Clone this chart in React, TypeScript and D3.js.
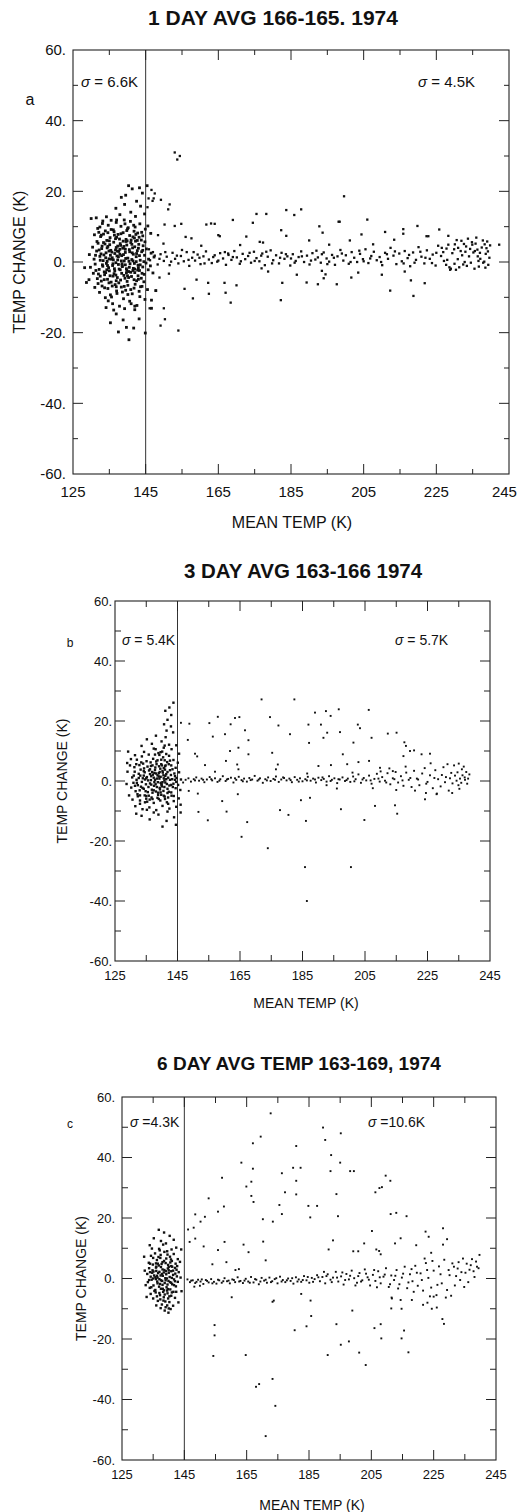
import React from "react";
import * as d3 from "d3";

// ---------- tick values ----------
const xTickValues = [125, 135, 145, 155, 165, 175, 185, 195, 205, 215, 225, 235, 245];
const xTickLabels = [125, 145, 165, 185, 205, 225, 245];
const yTickValues = [-60, -50, -40, -30, -20, -10, 0, 10, 20, 30, 40, 50, 60];
const yTickLabels = [60, 40, 20, 0, -20, -40, -60];
const dividerTemp = 145;

// ---------- panel a data : [mean temp K, temp change K] ----------
const aCluster: [number, number][] = [
[140.3,21.6],[141.3,20.7],[143.3,21],[145.4,21.6],[139.5,18.9],[138.3,18.3],[142.5,17.2],[144.1,19.5],[136.8,15.2],[140.9,14.1],[143.6,15.8],[134.2,12.8],[131.4,12.5],[130,12.3],[137.9,13.4],[142.2,12.9],[144.7,13.6],[139.2,16.3],[135.5,11.8],[133.1,10.9],
[131.8,9.5],[132.6,7.2],[133.9,8.8],[134.7,10.4],[135.2,6.9],[136.1,9.1],[136.9,11.2],[137.4,7.8],[138.2,10.1],[138.8,8.3],[139.6,6.4],[140.2,9.7],[140.8,11.5],[141.5,7.1],[142.1,9.9],[142.8,8.2],[143.4,10.8],[144.2,7.4],[144.9,9.3],[130.9,7.7],[134.3,6.1],[137.8,6.5],[141.9,6.8],[143.8,6.2],[139.1,11.9],[136.4,7.6],[133.2,11.6],[145.6,10.2],[146.4,8.1],[132.1,8.4],
[129.5,2.1],[130.4,4.2],[130.8,0.8],[131.5,3.1],[131.9,5.3],[132.4,1.6],[132.9,3.8],[133.3,0.4],[133.8,5.1],[134.1,2.6],[134.6,4.4],[134.9,0.9],[135.4,3.3],[135.8,1.2],[136.2,5.6],[136.5,2.4],[136.9,4.1],[137.3,0.6],[137.6,3.0],[138.0,5.2],[138.4,1.8],[138.7,3.9],[139.1,0.3],[139.4,2.7],[139.8,4.8],[140.1,1.1],[140.5,3.5],[140.9,5.5],[141.2,0.7],[141.6,2.2],[142.0,4.3],[142.4,1.5],[142.7,3.2],[143.1,5.0],[143.5,0.5],[143.9,2.9],[144.3,4.6],[144.7,1.9],[145.2,3.7],[145.8,0.8],[146.5,2.5],[147.3,1.4],[131.2,1.9],[134.4,0.2],[137.1,1.7],[139.6,5.8],[142.2,5.9],[135.1,4.9],[138.9,2.1],[141.4,4.0],[132.7,2.3],[136.7,3.4],
[129.8,-1.5],[130.6,-3.2],[131.1,-0.6],[131.7,-4.7],[132.2,-2.1],[132.8,-5.4],[133.2,-1.2],[133.7,-3.6],[134.2,-0.4],[134.5,-4.9],[135.0,-2.5],[135.5,-5.7],[135.9,-1.0],[136.3,-3.3],[136.8,-0.2],[137.2,-4.4],[137.7,-2.0],[138.1,-5.1],[138.6,-1.3],[139.0,-3.8],[139.4,-0.8],[139.9,-5.5],[140.3,-2.7],[140.7,-0.5],[141.1,-4.1],[141.6,-1.8],[142.0,-3.0],[142.5,-5.3],[142.9,-0.9],[143.3,-2.4],[143.8,-4.6],[144.2,-1.4],[144.6,-3.5],[145.1,-0.3],[145.7,-2.2],[146.3,-1.1],[147.0,-3.1],[133.6,-2.8],[136.0,-4.0],[138.4,-3.2],[140.9,-2.9],[143.0,-1.6],[134.8,-1.6],[137.5,-0.7],[139.7,-1.9],[141.9,-0.4],
[131.0,-7.2],[132.3,-8.6],[133.0,-6.8],[133.9,-10.1],[134.6,-7.5],[135.3,-9.3],[135.9,-11.8],[136.6,-6.4],[137.1,-8.9],[137.8,-12.5],[138.3,-7.1],[138.9,-10.4],[139.5,-8.0],[140.1,-6.6],[140.6,-11.1],[141.3,-9.0],[141.8,-7.4],[142.6,-12.3],[143.2,-8.3],[144.0,-6.9],[144.8,-10.6],[134.1,-12.9],[136.2,-13.6],[139.2,-13.2],[142.0,-13.5],[145.5,-7.8],[146.6,-13.1],[147.8,-8.1],[146.6,-10.8],
[140.4,-22],[141.7,-18.7],[139.7,-18.5],[138.8,-16.4],[136.9,-14.7],[142,-12.5],[137.5,-19.8],[143.2,-16.1],[135.3,-17.2],[144.9,-20.1],[128.7,-5.8],[129.4,-5],[128.2,-1.6],
[132.5,0.5],[133.5,2.0],[134.5,-1.0],[135.5,0.8],[136.5,-2.5],[137.5,1.5],[138.5,-0.5],[139.5,1.0],[140.5,-1.5],[141.5,0.3],[142.5,2.4],[143.5,-0.8],[133.0,4.5],[134.0,-3.0],[135.0,6.0],[136.0,-0.5],[137.0,7.0],[138.0,-2.2],[139.0,4.4],[140.0,-3.9],[141.0,6.2],[142.0,-2.0],[143.0,3.9],[144.0,-3.2],[132.0,-3.4],[133.4,7.9],[134.9,-5.9],[136.3,8.6],[137.9,3.6],[139.3,-4.6],[140.6,7.5],[141.8,-5.0],[143.2,7.0],[144.5,0.1],[135.7,2.8],[138.1,4.7],[140.4,0.2],[142.9,-3.9],[136.9,-5.3],[139.8,8.9],
[131.3,-2.4],[131.6,5.8],[131.9,-6.1],[132.2,3.4],[132.5,-4.0],[132.8,7.6],[133.1,-0.8],[133.4,5.5],[133.7,-7.3],[134.0,1.2],[134.3,-2.2],[134.6,8.3],[134.9,3.1],[135.2,-3.9],[135.5,9.2],[135.8,-6.8],[136.1,0.6],[136.4,-1.9],[136.7,6.6],[137.0,-8.2],[137.3,4.5],[137.6,-5.9],[137.9,2.2],[138.2,8.0],[138.5,-1.0],[138.8,5.9],[139.1,-6.9],[139.4,3.6],[139.7,-3.1],[140.0,9.4],[140.3,-4.4],[140.6,2.9],[140.9,-7.8],[141.2,5.0],[141.5,-2.4],[141.8,8.7],[142.1,-6.3],[142.4,0.1],[142.7,6.1],[143.0,-4.9],[143.3,1.8],[143.6,-7.0],[143.9,8.4],[144.2,3.3],[144.5,-5.6],[144.8,5.7],[135.3,1.9],[136.8,-3.7],[138.3,0.3],[139.8,-2.4],[141.3,2.6],[142.8,-2.3],[134.4,4.0],[137.2,3.1],[139.9,6.0],[142.3,7.8],[133.6,-5.0],[136.9,-7.0],[140.1,-9.2],[138.6,-8.5],[135.6,-9.9],[143.4,-9.8],[132.4,9.9],[139.3,10.8],[141.7,10.4],[137.0,11.9],[134.7,-11.0],[141.0,-11.8]
];
const aBand: [number, number][] = [
[146.2,0.5],[147.5,1.8],[148.3,-0.7],[149.1,2.2],[150.0,0.3],[150.8,1.5],[151.6,-0.9],[152.4,2.6],[153.1,0.9],[154.0,-0.4],[154.7,1.7],[155.5,0.2],[156.3,2.8],[157.0,-1.1],[157.8,1.2],[158.6,0.4],[159.3,2.1],[160.1,-0.6],[160.9,1.6],[161.6,3.0],[162.4,0.7],[163.2,-0.3],[164.0,1.9],[164.7,0.1],[165.5,2.5],[166.3,1.0],[167.1,-0.8],[167.8,2.0],[168.6,0.6],[169.4,3.1],[170.1,1.3],[170.9,-0.5],[171.7,2.3],[172.4,0.8],[173.2,1.7],[174.0,-0.2],[174.8,2.9],[175.5,1.1],[176.3,0.2],[177.1,2.4],[177.8,-0.9],[178.6,1.5],[179.4,3.3],[180.1,0.5],[180.9,1.9],[181.7,-0.4],[182.4,2.6],[183.2,0.9],[184.0,1.6],[184.8,-1.0],[185.5,2.2],[186.3,0.3],[187.1,1.4],[187.8,3.0],[188.6,0.0],[189.4,1.8],[190.1,-0.7],[190.9,2.5],[191.7,0.7],[192.4,1.3],[193.2,-0.2],[194.0,2.7],[194.8,1.0],[195.5,0.1],[196.3,2.0],[197.1,-0.8],[197.8,1.6],[198.6,3.4],[199.4,0.4],[200.1,1.9],[200.9,-0.5],[201.7,2.8],[202.4,1.2],[203.2,0.0],[204.0,2.3],[204.8,0.8],[205.5,3.6],[206.3,-0.3],[207.1,1.7],[207.8,2.9],[208.6,0.5],[209.4,1.4],[210.1,-0.9],[210.9,2.6],[211.7,0.9],[212.4,4.0],[213.2,1.8],[214.0,-0.6],[214.8,2.4],[215.5,0.2],[216.3,3.1],[217.1,1.1],[217.8,-1.2],[218.6,2.7],[219.4,0.6],[220.1,4.2],[220.9,1.5],[221.7,-0.4],[222.4,3.3],[223.2,0.9],[224.0,2.1],[224.8,-1.0],[225.5,4.6],[226.3,1.7],[227.1,0.3],[227.8,3.8],[228.6,-1.5],[229.4,2.5],[230.1,5.0],[230.9,0.8],[231.7,3.1],[232.4,-0.7],[233.2,4.4],[234.0,1.6],[234.8,5.6],[235.5,-1.9],[236.3,3.5],[237.1,0.9],[237.8,6.1],[238.6,2.3],[239.3,-0.8],[239.8,4.7],
[228.3,4.9],[229.0,-1.9],[230.6,6.2],[231.3,-1.5],[232.1,1.9],[233.7,6.6],[234.5,-0.2],[235.2,2.7],[236.0,6.9],[236.7,-1.3],[237.5,4.1],[238.2,0.1],[239.0,5.8],[239.6,1.2],[233.0,2.9],[235.8,5.2],[237.0,2.6],[238.8,3.9],[231.0,4.0],[226.9,2.8],[228.0,0.6],[230.0,-0.5],[232.8,0.0],[234.3,3.7],[236.6,0.3],[238.5,-1.6],[225.0,2.6],[223.8,-0.3],[222.0,1.2],[220.6,2.9],[219.0,-0.2],[217.5,2.0],[216.0,-0.4],[213.6,3.0],[211.4,2.2],[209.8,0.0],[206.8,1.0],[205.0,0.2],[203.8,3.2],[201.4,0.0],[199.0,2.4],[196.8,1.2],[195.0,-0.6],[193.5,2.2],[192.0,3.2],[190.5,0.4],[188.0,1.6],[186.0,-0.2],[185.0,1.0],[183.6,2.2],[182.0,1.2],[179.8,-0.4],[178.2,2.9],[176.8,1.8],[175.0,0.3],[173.6,2.6],[171.2,0.2],[169.0,1.4],[166.8,2.8],[165.0,0.4],[163.6,1.4],[161.2,-0.4],[159.8,1.2],[158.2,2.8],[156.8,0.6],[155.0,3.4],[153.6,1.8],[152.0,0.1],[150.4,2.8],[148.8,0.9],[147.0,2.8],[145.9,3.6],
[226.5,4.0],[227.7,-0.8],[229.9,3.6],[231.9,6.0],[233.4,-1.1],[234.9,4.9],[236.4,1.6],[237.9,-0.2],[239.2,3.0],[232.6,5.1],[235.6,3.1],[238.3,5.0]
];
const aOutliers: [number, number][] = [
[153,31],[153.7,29],[154.4,30],
[146.6,20.4],[147.5,19.4],[147.2,18],[146.9,17.3],[149.2,17.6],[151.6,16.3],[151.2,14.9],[145.8,18],[145.5,15.5],
[183.7,14.7],[175.5,13.6],[178.2,13.6],[169,11.9],[161.7,10.6],[163,10.9],[164,10.8],[153,10.2],[154.8,10.8],[150.2,10.6],[182.3,9],[183.7,7.4],[174.5,11.1],[172.7,7.2],[176.4,5.7],[177.3,5.5],[165.4,7.3],[165,7.6],[157.6,6.7],[156,7.1],[171,4.8],[167.7,2.4],[148.4,7.6],[149.9,5.2],[160.3,4.6],
[159,-5],[162.2,-5.9],[166.7,-5.9],[170,-6.6],[155.7,-7.6],[158,-10.3],[162.4,-9],[167,-8.7],[168.4,-11.5],[182.6,-5.9],[182.2,-10.8],[178.7,-2.7],[176.9,-1.8],
[150,-13.1],[150.3,-16.2],[154,-19.4],[149.1,-18],[146.1,-13.1],[147.8,-8.1],[148.8,-4.4],[151.4,-3.3],
[185.9,13.3],[187.8,14.9],[199.6,18.6],[198.1,11.4],[198.4,11.4],[206,12],[192.8,10.1],[193.7,8.3],[210.9,8.5],[204.4,7.8],[215.9,9.3],[215.9,8],[219.8,10.2],[225.8,9.2],[228.3,7.4],[222.3,7.3],[222.8,7.3],[242.3,4.9],[201.2,6.1],[207.6,5.0],[213.4,6.3],[190.0,6.1],[195.5,4.9],
[186.6,-3.6],[189.3,-5.8],[192.4,-6.3],[197.6,-6.3],[212.3,-8.1],[218.7,-9.6],[218,-5.2],[221.8,-6],[193.5,-2.5],[194.5,-3.5],[194,-4.6],[210,-3.6],[228.8,-2.2],[230.4,-2.2],[203.5,-3.0],[216.3,-2.7],[201.6,-4.4]
];

// ---------- panel b data ----------
const bCluster: [number, number][] = [
[129.2,9.8],[130.1,7.3],[131.4,8.6],[133.5,11.7],[135.2,13.9],[136.8,12.4],[138.1,15.1],[139.9,13.2],[141.2,14.6],[142.3,12.1],[143.1,10.6],[144.6,11.9],[145.5,9.1],[134.3,9.7],[137.4,10.8],[140.6,11.1],[129.8,5.2],[128.9,6.0],
[143.7,26.1],[142.4,24.5],[141.1,23.4],[143.0,22.0],[141.8,20.4],[142.9,18.2],[141.5,16.8],[143.6,16.2],[140.7,18.9],
[131.2,4.6],[132.0,7.1],[132.8,5.3],[133.6,8.2],[134.3,4.2],[135.1,6.6],[135.8,8.8],[136.5,5.0],[137.2,7.4],[137.9,4.5],[138.6,6.9],[139.2,8.7],[139.8,5.6],[140.4,7.9],[141.0,4.9],[141.7,6.3],[142.3,8.4],[143.0,5.2],[143.7,7.0],[144.4,4.4],[145.1,6.1],[138.9,9.3],[140.1,9.8],[136.2,3.9],[139.5,4.1],[141.4,9.0],
[130.5,1.2],[131.3,3.1],[131.9,0.4],[132.6,2.4],[133.2,3.8],[133.9,0.9],[134.5,2.9],[135.2,1.3],[135.9,3.5],[136.5,0.3],[137.1,2.1],[137.8,3.7],[138.4,0.8],[139.0,2.6],[139.6,1.4],[140.2,3.3],[140.8,0.2],[141.4,2.3],[142.0,1.1],[142.6,3.6],[143.3,0.6],[144.0,2.5],[144.7,1.0],[145.5,2.9],[146.1,0.5],[137.4,1.1],[139.3,3.0],[141.1,1.7],[138.1,2.5],[140.5,1.9],[142.9,2.0],[134.2,1.8],[136.9,3.0],
[130.2,-2.2],[130.9,-0.6],[131.6,-3.4],[132.3,-1.4],[132.9,-3.1],[133.6,-0.3],[134.2,-2.6],[134.9,-1.1],[135.5,-3.7],[136.2,-0.8],[136.8,-2.9],[137.5,-1.6],[138.1,-3.5],[138.7,-0.4],[139.3,-2.3],[139.9,-1.2],[140.5,-3.3],[141.1,-0.5],[141.8,-2.6],[142.4,-1.5],[143.0,-3.8],[143.7,-0.9],[144.4,-2.4],[145.2,-1.3],[145.9,-3.0],[137.0,-3.9],[139.6,-3.8],[135.7,-2.0],[138.4,-2.0],[140.8,-2.0],[133.3,-1.9],
[130.6,-6.2],[131.5,-8.4],[132.3,-5.1],[133.0,-7.6],[133.8,-9.4],[134.5,-4.8],[135.3,-6.9],[136.0,-8.8],[136.7,-5.5],[137.4,-7.3],[138.2,-9.7],[138.8,-4.6],[139.5,-6.5],[140.2,-8.3],[140.9,-5.2],[141.6,-7.1],[142.4,-9.2],[143.1,-4.9],[143.8,-6.7],[144.6,-8.6],[145.4,-5.8],[146.0,-7.9],[135.0,-5.0],[139.0,-6.0],[142.0,-5.5],
[133.5,-11.6],[136.1,-12.8],[138.9,-11.2],[141.5,-13.3],[143.9,-12.1],[140.2,-15.2],[144.5,-14.6],[131.8,-10.9],[146.0,-10.5],[135.2,-9.6],[129.5,-4.8],[128.7,-1.0],[129.0,3.1],
[134.6,0.5],[135.6,0.2],[136.6,1.6],[137.6,-0.4],[138.6,1.9],[139.6,-0.6],[140.6,0.9],[141.6,-1.0],[142.6,0.4],[139.2,0.8],[140.0,-1.8],[138.0,-1.1],[141.0,3.8],[142.2,5.6],[140.0,5.2],[138.3,5.6],[136.4,6.2],[134.0,5.8],[133.0,-4.8],[135.0,-5.9],[137.0,-6.0],[139.8,-4.6],[141.8,-4.0],[143.5,-2.0],[144.2,0.4],[132.0,-0.6],[131.0,1.8],[137.8,8.8],[140.9,6.9],
[131.4,-1.6],[131.8,5.6],[132.2,-4.4],[132.6,1.0],[133.0,-6.5],[133.4,6.2],[133.8,-2.3],[134.2,3.3],[134.6,-7.1],[135.0,0.9],[135.4,4.8],[135.8,-4.9],[136.2,2.3],[136.6,-1.2],[137.0,5.2],[137.4,-3.1],[137.8,0.4],[138.2,6.5],[138.6,-5.6],[139.0,1.5],[139.4,-2.8],[139.8,7.1],[140.2,-0.4],[140.6,4.3],[141.0,-6.0],[141.4,0.6],[141.8,3.0],[142.2,-3.6],[142.6,6.8],[143.0,-1.3],[143.4,3.9],[143.8,-5.0],[144.2,1.6],[144.6,-0.3],[139.1,4.9],[140.3,2.8],[138.8,-3.9],[140.6,-4.9],[137.6,2.7],[139.9,-1.1],[141.2,5.2],[136.1,-6.2],[134.8,-3.4],[133.1,1.8],[142.0,-7.6],[139.6,9.6],[140.9,11.8],[138.0,10.6],[141.8,-10.2],[137.4,-10.5]
];
const bBand: [number, number][] = [
[146.8,-0.5],[147.6,0.4],[148.5,0.9],[149.3,-0.2],[150.2,0.6],[151.0,1.2],[151.9,0.1],[152.7,0.8],[153.6,-0.4],[154.4,0.5],[155.3,1.3],[156.1,0.2],[157.0,0.9],[157.8,-0.3],[158.7,0.6],[159.5,1.6],[160.4,0.0],[161.2,0.7],[162.1,1.1],[162.9,-0.5],[163.8,0.4],[164.6,1.4],[165.5,0.3],[166.3,0.8],[167.2,-0.2],[168.0,1.0],[168.9,0.5],[169.7,1.7],[170.6,0.1],[171.4,0.9],[172.3,-0.6],[173.1,0.6],[174.0,1.2],[174.8,0.0],[175.7,0.7],[176.5,1.5],[177.4,-0.3],[178.2,0.5],[179.1,1.0],[179.9,0.2],[180.8,0.8],[181.6,-0.4],[182.5,1.3],[183.3,0.4],[184.2,0.9],[185.0,-0.1],[185.9,0.6],[186.7,1.4],[187.6,0.1],[188.4,0.8],[189.3,-0.5],[190.1,1.1],[191.0,0.3],[191.8,0.7],[192.7,-0.2],[193.5,1.6],[194.4,0.4],[195.2,0.9],[196.1,-0.7],[196.9,0.5],[197.8,1.2],[198.6,0.0],[199.5,0.8],[200.3,-0.3],[201.2,1.5],[202.0,0.6],[202.9,2.2],[203.7,-0.6],[204.6,1.0],[205.4,0.2],[206.3,1.8],[207.1,-0.9],[208.0,0.7],[208.8,2.4],[209.7,-0.2],[210.5,1.3],[211.4,0.1],[212.2,2.6],[213.1,-1.1],[213.9,0.9],[214.8,3.0],[215.6,-0.5],[216.5,1.6],[217.3,-1.6],[218.2,2.8],[219.0,0.4],[219.9,-2.0],[220.7,3.4],[221.6,0.8],[222.4,-1.4],[223.3,2.5],[224.1,4.3],[225.0,-0.3],[225.8,1.9],[226.7,-2.4],[227.5,3.6],[228.4,0.6],[229.2,-1.8],[230.1,4.6],[230.9,1.3],[231.8,-3.2],[232.6,2.7],[233.5,5.2],[234.3,0.1],[235.2,-2.6],[236.0,3.9],[236.9,1.2],[237.7,-0.9],[238.4,2.2],
[233.8,1.8],[234.6,2.9],[235.4,0.8],[236.2,1.9],[237.0,0.4],[235.8,-0.6],[234.9,-1.4],[236.6,4.8],[237.4,3.0],[233.0,-0.8],[232.2,0.9],[231.4,5.6],[229.6,2.0],[228.0,-4.2],[230.6,-0.4],[232.9,-4.0],[226.0,5.9],[227.2,1.0],[238.0,0.8],[235.0,5.8],
[150.6,0.2],[153.2,0.4],[155.8,0.6],[158.4,0.1],[160.8,0.5],[163.4,0.9],[165.9,-0.1],[168.4,0.3],[171.0,0.5],[173.6,0.2],[176.2,0.4],[178.8,1.2],[181.2,0.3],[183.8,-0.2],[186.4,0.2],[189.0,0.5],[191.4,1.2],[194.0,0.0],[196.5,0.6],[199.1,0.3],[201.6,-0.1],[204.2,0.5],[206.8,0.2],[209.3,0.8],[211.8,-0.5],[214.4,0.6],[217.0,0.2],[219.5,1.0],[222.0,0.5],[224.6,-0.9],[186.5,2.5],[201.0,2.8],[210.0,3.2],[196.0,-2.5],[207.5,-2.4],[215.0,-3.0],[221.0,-3.2],[224.5,-4.0],[218.0,4.8],[212.8,4.2]
];
const bOutliers: [number, number][] = [
[171.9,27.2],[182.4,27.2],[164.8,21.3],[163.4,21],[157.9,21.4],[155.2,19.3],[148.8,19.1],[146.1,19.4],[174.6,21.3],[189,22.8],[192.5,23.3],[194,21.7],[196.6,23.9],[206.2,23.7],[186.9,18.8],[190.9,18.8],[197,16.3],[202.7,18.8],[203.4,17.6],[192.9,16.1],[191.7,14.4],[181,15.6],[177.3,18.5],[166.6,16.9],[167.7,13.6],[160.2,15.6],[156.3,14.8],[162,18.9],[187.1,12.7],[207.1,14.4],[212.3,15.8],[215.1,16.1],[201.3,12.8],[217.6,12.9],[218.1,11.7],[219.4,10],[220.7,10.2],[223.1,8.9],[225.8,9.1],[217.3,8.3],[150.6,9.1],[151.3,8.2],[148.3,13.7],[160.5,6.7],[161.8,10],[164.5,11.1],[167.7,8.9],[164.1,5.5],[164.5,3.9],[177.1,5.5],[176.5,3.9],[175.3,9.4],[190.1,5],[194.1,5.3],[197.9,8.9],[199.3,5.6],[202.9,6.3],[206.3,6.7],[209.8,4.4],[213.9,3.3],[153.8,5.3],[157,3.1],
[151.7,-10.3],[154.7,-13.1],[159.3,-6.7],[160.7,-10.2],[164.3,-4.4],[167.3,-13.7],[165.5,-18.6],[173.9,-22.4],[177.8,-9.7],[180.5,-11.3],[184.5,-6.4],[186.1,-13.3],[187.4,-5.6],[197.3,-9.4],[204.8,-13],[208.2,-8.3],[214.6,-8.1],[215.3,-10.9],[224.2,-6.1],[227.9,-4.4],[151.5,-4.2],[148.6,-3.3],[192.7,-1.4],
[185.8,-28.7],[186.4,-40],[200.5,-28.7]
];

// ---------- panel c data ----------
const cCluster: [number, number][] = [
[136.8,16.1],[138.5,15.2],[140.3,14.1],[135.2,13.3],[137.5,12.4],[141.6,12.8],[133.9,11.0],[139.1,11.6],[142.4,10.2],[134.6,9.9],
[133.6,5.2],[134.3,7.5],[134.9,4.6],[135.6,8.3],[136.2,6.1],[136.8,4.3],[137.4,7.8],[138.0,5.4],[138.6,8.8],[139.2,6.6],[139.8,4.5],[140.4,7.2],[141.0,5.8],[141.6,8.1],[142.2,4.9],[142.9,6.4],[137.1,9.3],[139.5,9.0],[135.9,5.0],[140.8,4.1],
[133.1,1.5],[133.7,3.4],[134.2,0.6],[134.8,2.7],[135.3,1.0],[135.9,3.6],[136.4,0.3],[137.0,2.2],[137.5,3.8],[138.1,0.9],[138.6,2.8],[139.2,1.4],[139.7,3.3],[140.3,0.5],[140.8,2.4],[141.4,1.2],[142.0,3.5],[142.6,0.7],[143.2,2.1],[136.6,1.8],[138.9,0.1],[141.1,3.9],[135.1,2.3],[137.8,1.5],[140.0,1.9],
[133.3,-1.2],[133.9,-3.1],[134.5,-0.4],[135.1,-2.3],[135.7,-3.8],[136.3,-1.0],[136.9,-2.7],[137.5,-0.6],[138.1,-3.4],[138.7,-1.5],[139.3,-2.9],[139.9,-0.8],[140.5,-3.6],[141.1,-1.9],[141.7,-0.3],[142.3,-2.6],[142.9,-1.1],[137.2,-1.8],[139.6,-2.0],[135.9,-0.2],[140.8,-1.4],
[134.2,-5.1],[135.0,-6.6],[135.8,-4.6],[136.5,-7.4],[137.2,-5.5],[137.8,-8.6],[138.4,-6.2],[139.0,-9.5],[139.6,-4.9],[140.2,-7.8],[140.8,-5.7],[141.4,-9.0],[142.0,-6.4],[138.7,-10.6],[139.9,-11.3],[140.6,-10.1],[137.4,-9.8],[136.0,-8.9],[141.5,-4.4],[138.2,-4.4],
[135.0,0.0],[136.0,2.5],[137.0,-0.2],[138.0,3.0],[139.0,-0.6],[140.0,2.7],[141.0,0.2],[142.0,-0.9],[136.5,4.9],[138.5,5.8],[140.5,5.3],[137.5,-3.4],[139.5,-4.0],[134.0,2.1],[142.5,2.9],[136.2,-5.9],[139.8,-6.6],[138.3,-7.3],[137.3,6.8],[139.6,7.9],
[132.3,2.6],[132.6,-2.2],[143.8,0.3],[144.1,-4.2],[143.6,5.5],[132.9,-6.1],[143.1,-7.9],[132.1,7.2],[144.0,9.6],
[133.7,-0.5],[134.0,4.9],[134.4,-2.9],[134.7,1.9],[135.0,6.8],[135.4,-4.1],[135.7,0.4],[136.0,3.9],[136.4,-1.6],[136.7,7.1],[137.0,-4.8],[137.4,1.0],[137.7,4.8],[138.0,-2.1],[138.4,2.0],[138.7,-5.3],[139.0,5.1],[139.4,0.0],[139.7,-3.5],[140.0,3.8],[140.4,-1.2],[140.7,6.3],[141.0,-4.6],[141.4,2.6],[141.7,-2.2],[142.1,1.6],[142.4,-4.4],[142.7,4.1],[136.2,0.9],[137.9,-0.8],[139.1,2.4],[138.5,-3.9],[140.2,-5.9],[137.3,-6.9],[138.9,-7.6],[139.5,-8.9],[140.0,-9.9],[136.9,9.8],[138.2,11.2],[140.9,9.6]
];
const cBand: [number, number][] = [
[146.0,-0.3],[146.8,-1.2],[147.7,-0.6],[148.5,-1.5],[149.4,-0.4],[150.2,-1.0],[151.1,-1.8],[151.9,-0.5],[152.8,-1.3],[153.6,-0.2],[154.5,-1.1],[155.3,-1.7],[156.2,-0.6],[157.0,-1.4],[157.9,0.1],[158.7,-0.9],[159.6,-1.6],[160.4,-0.3],[161.3,-1.2],[162.1,0.4],[163.0,-0.8],[163.8,-1.5],[164.7,-0.1],[165.5,-1.0],[166.4,0.5],[167.2,-1.3],[168.1,-0.4],[168.9,-1.9],[169.8,0.2],[170.6,-0.7],[171.5,-1.4],[172.3,0.3],[173.2,-0.9],[174.0,-0.2],[174.9,-1.6],[175.7,0.6],[176.6,-0.5],[177.4,-1.2],[178.3,0.0],[179.1,-0.8],[180.0,-1.7],[180.8,0.4],[181.7,-0.3],[182.5,-1.1],[183.4,0.8],[184.2,-0.6],[185.1,-1.4],[185.9,0.2],[186.8,-0.2],[187.6,1.1],[188.5,-0.9],[189.3,0.5],[190.2,-1.6],[191.0,1.4],[191.9,-0.4],[192.7,0.3],[193.6,2.2],[194.4,-1.0],[195.3,0.7],[196.1,-2.0],[197.0,1.5],[197.8,-0.3],[198.7,2.6],[199.5,0.1],[200.4,-1.4],[201.2,1.8],[202.1,-0.6],[202.9,3.0],[203.8,0.4],[204.6,-2.3],[205.5,1.2],[206.3,-0.8],[207.2,2.4],[208.0,-1.6],[208.9,0.6],[209.7,3.4],[210.6,-2.8],[211.4,1.0],[212.3,-0.5],[213.1,2.8],[214.0,-1.9],[214.8,0.3],[215.7,3.9],[216.5,-3.2],[217.4,1.4],[218.2,-0.9],[219.1,4.2],[219.9,-2.4],[220.8,1.7],[221.6,-4.0],[222.5,5.1],[223.3,0.2],[224.2,-3.0],[225.0,2.6],[225.9,-5.5],[226.7,4.0],[227.6,-1.6],[228.4,6.2],[229.3,-3.8],[230.1,1.1],[231.0,5.0],[231.8,-2.3],[232.7,3.3],[233.5,-0.5],[234.4,6.6],[235.2,1.9],[236.1,-1.2],[236.9,4.4],[237.8,2.4],[238.6,5.6],[239.4,3.4],
[229.8,2.8],[230.6,-5.7],[231.5,3.9],[232.2,0.8],[233.0,5.4],[233.9,2.1],[234.8,-2.8],[235.6,4.9],[236.5,2.9],[237.3,6.4],[238.1,0.5],[238.9,3.9],[227.2,1.4],[228.9,-6.3],[226.2,-2.1],[224.6,5.8],[223.8,-5.9],[222.9,2.8],[221.2,-0.5],[219.6,1.9],[218.6,-4.4],[217.9,3.1],[216.9,-1.3],[215.2,1.6],[213.6,-3.3],[212.7,0.9],[211.0,-1.9],[209.3,1.3],[207.7,0.4],[206.8,-2.9],[205.9,2.8],[204.2,-0.4],[203.3,1.6],[201.7,-1.0],[200.8,0.8],[199.9,-2.3],[198.2,0.9],[196.6,-0.5],[195.7,2.0],[194.0,0.3],[192.3,-1.2],[190.6,0.8],[189.8,2.2],[188.0,0.4],[186.3,-1.1],[184.6,0.5],[183.0,-0.5],[181.3,-1.0],[179.6,0.1],[177.9,-0.6],[176.2,-1.0],[174.5,0.1],[172.8,-1.2],[171.1,-0.4],[169.4,-1.0],[167.7,-0.2],[166.0,-1.4],[164.3,-0.7],[162.6,-1.0],[160.9,-0.5],[159.2,-0.7],[157.5,-0.9],[155.8,-0.4],[154.0,-1.6],[152.3,-0.8],[150.6,-0.3],[148.9,-1.1],[147.2,-0.7]
];
const cOutliers: [number, number][] = [
[172.7,54.6],[189.5,49.9],[190.2,45.8],[195.2,48],[169.5,46.9],[167,44.7],[180.9,43.8],[192.1,40.8],[163.3,38.3],[195,38.3],[179.9,36.6],[182.3,36.6],[167,36.3],[176.3,34.8],[191.9,35.5],[198.2,35.5],[199.4,35.5],[157.1,33.3],[180.9,32.3],[166.5,32],[164.9,30.4],[209.6,34],[211.1,32.3],[208.4,30.2],[207.6,29.9],[206.3,28.5],[177.3,28.5],[180.9,27.8],[193.8,27.9],[166.5,27.3],[152.8,26.5],[167.2,25.3],[175.5,24.3],[184.8,24],[187.6,24],[157.7,23.8],[155.8,22.1],[176.3,21.3],[185.4,20.2],[194.3,20.6],[211.2,21.3],[213,21.7],[216.3,20.6],[148.5,21.2],[151.6,20.4],[150.2,18.8],[173.4,18.8],[170.2,19.6],[146.2,16.2],[148,16.8],[148.5,13.2],[151.2,10.6],[170.3,12.2],[164,11.2],[192.7,12.6],[191.3,9.6],[205.2,15.7],[202.7,11.6],[207.5,9.1],[208,8],[206.6,9.6],[200.8,9],[199.2,9],[214.4,13.3],[212.6,11.6],[219.4,11],
[222.4,15.5],[223.4,13.8],[228,16.6],[229.3,13],[228,11.2],[224.2,8.5],[222.1,6.6],[239.7,7.8],[165.6,8.7],[171.1,6],[158.5,5.4],[154,4.7],[155.8,9.4],[161.4,2.8],[162.5,3.1],[146.7,12.1],[157.9,12.1],
[185.7,-12.4],[154.7,-15.4],[154.7,-18.8],[180.4,-17.1],[184.2,-15.8],[193.8,-15.1],[198.9,-10.6],[206,-16.4],[208,-15.1],[208.2,-19.8],[214.7,-19.8],[215.5,-17.2],[195.2,-21.9],[197.8,-20.8],[211.4,-9.9],[214.4,-7.1],[211.6,-6.6],[218,-7.1],[160.2,-6.2],[173.7,-7.3],[185.5,-7.3],[182.5,-5.1],[226,-9.6],[227.8,-13.4],[228.3,-15],[223,-8],[225,-6],[148.2,-2.7],[150,-2.4],
[154.3,-25.6],[164.7,-25.3],[168,-35.8],[169,-34.9],[173.3,-33.2],[174.2,-42.1],[171.1,-52.1],[173.3,-7.7],[191,-25.3],[201.1,-24.5],[203.2,-28.6],[216.9,-24.4],[211.5,-6.3],[214.7,-10],[221.6,-8.7],[224.4,-10]
];

type Pt = [number, number];
interface PanelCfg {
  title: string; titleX: number; titleY: number; titleSize: number;
  x0: number; x1: number; yTop: number; yBot: number;
  tickFont: number; yLabelRight: number; xLabelY: number;
  xTitleX: number; xTitleY: number; xTitleSize: number;
  yTitleX: number; yTitleSize: number;
  letter: string; letterX: number; letterY: number; letterSize: number;
  sigL: string; sigLX: number; sigR: string; sigRX: number; sigY: number; sigSize: number;
  dot: number; clusterDot: number; tickMajor: number; tickMinor: number;
  cluster: Pt[]; points: Pt[];
}

const FONT = "'Liberation Sans', Arial, Helvetica, sans-serif";
const PAGE_W = 518;

function Sigma({ x, y, text, size }: { x: number; y: number; text: string; size: number }) {
  return (
    <text x={x} y={y} fontSize={size} fontFamily={FONT} fill="#111">
      <tspan fontStyle="italic">σ</tspan>
      <tspan>{text}</tspan>
    </text>
  );
}

function Panel({ c }: { c: PanelCfg }) {
  const x = d3.scaleLinear().domain([125, 245]).range([c.x0, c.x1]);
  const y = d3.scaleLinear().domain([-60, 60]).range([c.yBot, c.yTop]);
  const inner = (v: number) => v > -60 && v < 60;
  const innerX = (v: number) => v > 125 && v < 245;
  const yZero = y(0);
  const halfLabel = c.tickFont * 0.84;
  return (
    <g>
      <text x={c.titleX} y={c.titleY} fontSize={c.titleSize} fontWeight="bold" fontFamily={FONT} textAnchor="middle" fill="#111">{c.title}</text>
      <rect x={c.x0} y={c.yTop} width={c.x1 - c.x0} height={c.yBot - c.yTop} fill="none" stroke="#222" strokeWidth={1.1} />
      <line x1={x(dividerTemp)} x2={x(dividerTemp)} y1={c.yTop} y2={c.yBot} stroke="#333" strokeWidth={1} />
      {xTickValues.filter(innerX).map((v) => {
        const len = (v - 125) % 20 === 0 ? c.tickMajor : c.tickMinor;
        return (
          <g key={"xt" + v}>
            <line x1={x(v)} x2={x(v)} y1={c.yBot} y2={c.yBot - len} stroke="#222" strokeWidth={1} />
            <line x1={x(v)} x2={x(v)} y1={c.yTop} y2={c.yTop + len} stroke="#222" strokeWidth={1} />
          </g>
        );
      })}
      {yTickValues.filter(inner).map((v) => {
        const len = v % 20 === 0 ? c.tickMajor : c.tickMinor;
        return (
          <g key={"yt" + v}>
            <line x1={c.x0} x2={c.x0 + len} y1={y(v)} y2={y(v)} stroke="#222" strokeWidth={1} />
            <line x1={c.x1} x2={c.x1 - len} y1={y(v)} y2={y(v)} stroke="#222" strokeWidth={1} />
          </g>
        );
      })}
      {yTickLabels.map((v) => (
        <text key={"yl" + v} x={c.yLabelRight} y={y(v)} dy="0.36em" fontSize={c.tickFont} fontFamily={FONT} textAnchor="end" fill="#111">{v + "."}</text>
      ))}
      {xTickLabels.map((v) => (
        <text key={"xl" + v} x={Math.min(x(v), PAGE_W - 1 - halfLabel)} y={c.xLabelY} fontSize={c.tickFont} fontFamily={FONT} textAnchor="middle" fill="#111">{v}</text>
      ))}
      <text x={c.xTitleX} y={c.xTitleY} fontSize={c.xTitleSize} fontFamily={FONT} textAnchor="middle" fill="#111">MEAN TEMP (K)</text>
      <text transform={`translate(${c.yTitleX},${yZero}) rotate(-90)`} dy="0.36em" fontSize={c.yTitleSize} fontFamily={FONT} textAnchor="middle" fill="#111">TEMP CHANGE (K)</text>
      <text x={c.letterX} y={c.letterY} fontSize={c.letterSize} fontFamily={FONT} textAnchor="middle" fill="#111">{c.letter}</text>
      <Sigma x={c.sigLX} y={c.sigY} text={c.sigL} size={c.sigSize} />
      <Sigma x={c.sigRX} y={c.sigY} text={c.sigR} size={c.sigSize} />
      <g fill="#111">
        {c.cluster.map((p, i) => (
          <rect key={"k" + i} x={x(p[0]) - c.clusterDot / 2} y={y(p[1]) - c.clusterDot / 2} width={c.clusterDot} height={c.clusterDot} />
        ))}
        {c.points.map((p, i) => (
          <rect key={i} x={x(p[0]) - c.dot / 2} y={y(p[1]) - c.dot / 2} width={c.dot} height={c.dot} />
        ))}
      </g>
    </g>
  );
}

const panels: PanelCfg[] = [
  {
    title: "1 DAY AVG 166-165. 1974", titleX: 273, titleY: 25, titleSize: 21,
    x0: 73, x1: 509, yTop: 50, yBot: 474,
    tickFont: 15, yLabelRight: 66, xLabelY: 497,
    xTitleX: 292, xTitleY: 528, xTitleSize: 16,
    yTitleX: 19, yTitleSize: 16,
    letter: "a", letterX: 30, letterY: 105, letterSize: 16,
    sigL: " = 6.6K", sigLX: 81, sigR: " = 4.5K", sigRX: 418, sigY: 87, sigSize: 15,
    dot: 2.3, clusterDot: 2.8, tickMajor: 10, tickMinor: 5,
    cluster: aCluster, points: [...aBand, ...aOutliers],
  },
  {
    title: "3 DAY AVG 163-166 1974", titleX: 303, titleY: 578, titleSize: 20.5,
    x0: 115, x1: 490, yTop: 601, yBot: 961,
    tickFont: 13, yLabelRight: 112, xLabelY: 980,
    xTitleX: 306, xTitleY: 1008, xTitleSize: 14,
    yTitleX: 62, yTitleSize: 14,
    letter: "b", letterX: 70, letterY: 647, letterSize: 12,
    sigL: " = 5.4K", sigLX: 122, sigR: " = 5.7K", sigRX: 395, sigY: 645, sigSize: 14,
    dot: 1.9, clusterDot: 2.4, tickMajor: 10, tickMinor: 6,
    cluster: bCluster, points: [...bBand, ...bOutliers],
  },
  {
    title: "6 DAY AVG TEMP 163-169, 1974", titleX: 299, titleY: 1070, titleSize: 19,
    x0: 122, x1: 496, yTop: 1097, yBot: 1460,
    tickFont: 13, yLabelRight: 115, xLabelY: 1479,
    xTitleX: 312, xTitleY: 1510, xTitleSize: 14,
    yTitleX: 81, yTitleSize: 14,
    letter: "c", letterX: 70, letterY: 1128, letterSize: 12,
    sigL: " =4.3K", sigLX: 130, sigR: " =10.6K", sigRX: 368, sigY: 1127, sigSize: 14,
    dot: 1.9, clusterDot: 2.4, tickMajor: 10, tickMinor: 6,
    cluster: cCluster, points: [...cBand, ...cOutliers],
  },
];

export default function App() {
  return (
    <svg width={518} height={1512} viewBox="0 0 518 1512" style={{ position: "absolute", left: 0, top: 0, background: "#fff" }}>
      <rect x={0} y={0} width={518} height={1512} fill="#fff" />
      {panels.map((p, i) => <Panel key={i} c={p} />)}
    </svg>
  );
}
